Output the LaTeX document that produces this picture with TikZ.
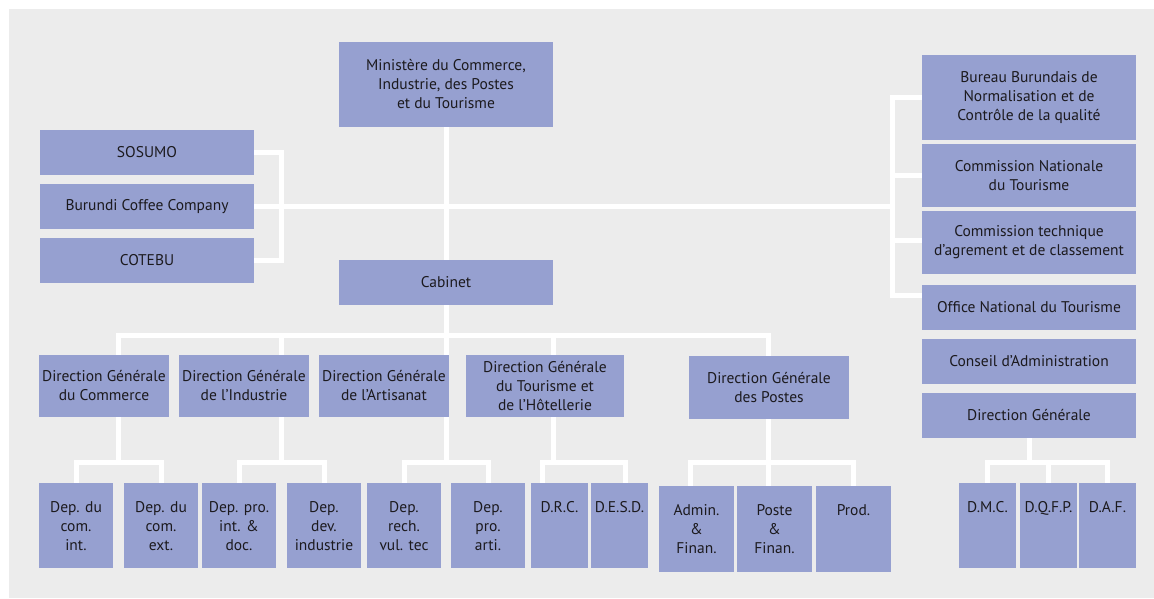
\documentclass[tikz,border=0pt]{standalone}
\usepackage{fontspec}
\setmainfont{PT Sans}
\usetikzlibrary{backgrounds}
\definecolor{boxblue}{RGB}{150,160,208}
\definecolor{panel}{RGB}{236,236,236}
\definecolor{ink}{RGB}{28,26,30}
\tikzset{
	unit/.style={fill=boxblue, text=ink, inner sep=0pt, align=center, font=\fontsize{15.5}{19}\selectfont},
	sz/.style 2 args={minimum width=#1pt, minimum height=#2pt},
	dep/.style={unit, sz={74}{85}},
	deptext/.style={anchor=north, yshift=-18.5pt, inner sep=0pt, align=center, text=ink, font=\fontsize{15.5}{19}\selectfont},
	link/.style={draw=white, line width=5pt},
}
\begin{document}
\begin{tikzpicture}[x=1pt, y=-1pt]
	\useasboundingbox (0,0) rectangle (1154,598);
	% ministere et organismes
	\node[unit, sz={214}{85}] (min) at (446,84.5) {Ministère du Commerce,\\Industrie, des Postes\\et du Tourisme};
	\node[unit, sz={214}{45}] (cab) at (446,282.5) {Cabinet};
	\node[unit, sz={214}{45}] (sos) at (147,152.5) {SOSUMO};
	\node[unit, sz={214}{45}] (bcc) at (147,206.5) {Burundi Coffee Company};
	\node[unit, sz={214}{45}] (cot) at (147,260.5) {COTEBU};
	\node[unit, sz={214}{85}] (bbn) at (1029,97.5) {Bureau Burundais de\\Normalisation et de\\Contrôle de la qualité};
	\node[unit, sz={214}{63}] (cnt) at (1029,175.5) {Commission Nationale\\du Tourisme};
	\node[unit, sz={214}{63}] (cta) at (1029,242.5) {Commission technique\\d’agrement et de classement};
	\node[unit, sz={214}{45}] (ont) at (1029,307.5) {Office National du Tourisme};
	\node[unit, sz={214}{45}] (cda) at (1029,361.5) {Conseil d’Administration};
	\node[unit, sz={214}{45}] (dgr) at (1029,415.5) {Direction Générale};
	% directions generales
	\node[unit, sz={130}{62}] (dgc) at (104,386) {Direction Générale\\du Commerce};
	\node[unit, sz={130}{62}] (dgi) at (244,386) {Direction Générale\\de l'Industrie};
	\node[unit, sz={130}{62}] (dga) at (384,386) {Direction Générale\\de l'Artisanat};
	\node[unit, sz={158}{62}] (dgt) at (545,386) {Direction Générale\\du Tourisme et\\de l'Hôtellerie};
	\node[unit, sz={160}{63}] (dgp) at (769,387.5) {Direction Générale\\des Postes};
	% departements
	\node[dep, label={[deptext]north:Dep. du\\com.\\int.}] (dci) at (76,525.5) {};
	\node[dep, label={[deptext]north:Dep. du\\com.\\ext.}] (dce) at (161,525.5) {};
	\node[dep, label={[deptext]north:Dep. pro.\\int. \&\\doc.}] (dpi) at (239,525.5) {};
	\node[dep, label={[deptext]north:Dep.\\dev.\\industrie}] (ddi) at (324,525.5) {};
	\node[dep, label={[deptext]north:Dep.\\rech.\\vul. tec}] (drv) at (404,525.5) {};
	\node[dep, label={[deptext]north:Dep.\\pro.\\arti.}] (dpa) at (488,525.5) {};
	\node[dep, sz={57}{85}, label={[deptext]north:D.R.C.}] (drc) at (559.5,525.5) {};
	\node[dep, sz={57}{85}, label={[deptext]north:D.E.S.D.}] (desd) at (619.5,525.5) {};
	\node[dep, sz={75}{86}, label={[deptext]north:Admin.\\\&\\Finan.}] (adm) at (696.5,529) {};
	\node[dep, sz={75}{86}, label={[deptext]north:Poste\\\&\\Finan.}] (pof) at (774.5,529) {};
	\node[dep, sz={75}{86}, label={[deptext]north:Prod.}] (prod) at (853.5,529) {};
	\node[dep, sz={57}{85}, label={[deptext]north:D.M.C.}] (dmc) at (987.5,525.5) {};
	\node[dep, sz={57}{85}, label={[deptext]north:D.Q.F.P.}] (dqfp) at (1048.5,525.5) {};
	\node[dep, sz={57}{85}, label={[deptext]north:D.A.F.}] (daf) at (1107.5,525.5) {};
	% liaisons
	\begin{pgfonlayer}{background}
		\fill[white] (0,0) rectangle (1154,598);
		\fill[panel] (9,9) rectangle (1154,598);
		\coordinate (lk) at (281,206.5);
		\coordinate (rk) at (892,206.5);
		\coordinate (tb) at (446,335);
		\coordinate (bc) at (118,462);
		\coordinate (bi) at (281,462);
		\coordinate (ba) at (446,462);
		\coordinate (bt) at (553,462);
		\coordinate (bp) at (768,462);
		\coordinate (br) at (1029,462);
		\draw[link] (min) -- (cab);
		\draw[link] (sos.east) -| (lk) |- (cot.east);
		\draw[link] (bcc.east) -- (rk);
		\draw[link] (bbn.west) -| (rk) |- ([yshift=12pt]ont.west);
		\draw[link] (cnt.west) -- (cnt.west -| rk);
		\draw[link] ([yshift=2pt]cta.west) -- ([yshift=2pt]cta.west -| rk);
		\draw[link] (cab) -- (ba);
		\draw[link] (dgc.north -| bc) |- (tb) -| (dgp.north -| bp);
		\draw[link] (dgi.north -| bi) -- (bi |- tb);
		\draw[link] (dgt.north -| bt) -- (bt |- tb);
		\draw[link] (dgc.south -| bc) -- (bc);
		\draw[link] (dci) |- (bc) -| (dce);
		\draw[link] (dgi.south -| bi) -- (bi);
		\draw[link] (dpi) |- (bi) -| (ddi);
		\draw[link] (drv) |- (ba) -| (dpa);
		\draw[link] (dgt.south -| bt) -- (bt);
		\draw[link] ([xshift=-17pt]drc.north) |- (bt) -| ([xshift=6pt]desd.north);
		\draw[link] (dgp.south -| bp) -- (pof.north -| bp);
		\draw[link] ([xshift=-6pt]adm.north) |- (bp) -| (prod);
		\draw[link] (dgr) -- (br);
		\draw[link] (dmc) |- (br) -| (daf);
		\draw[link] (dqfp) -- (dqfp |- br);
	\end{pgfonlayer}
\end{tikzpicture}
\end{document}
